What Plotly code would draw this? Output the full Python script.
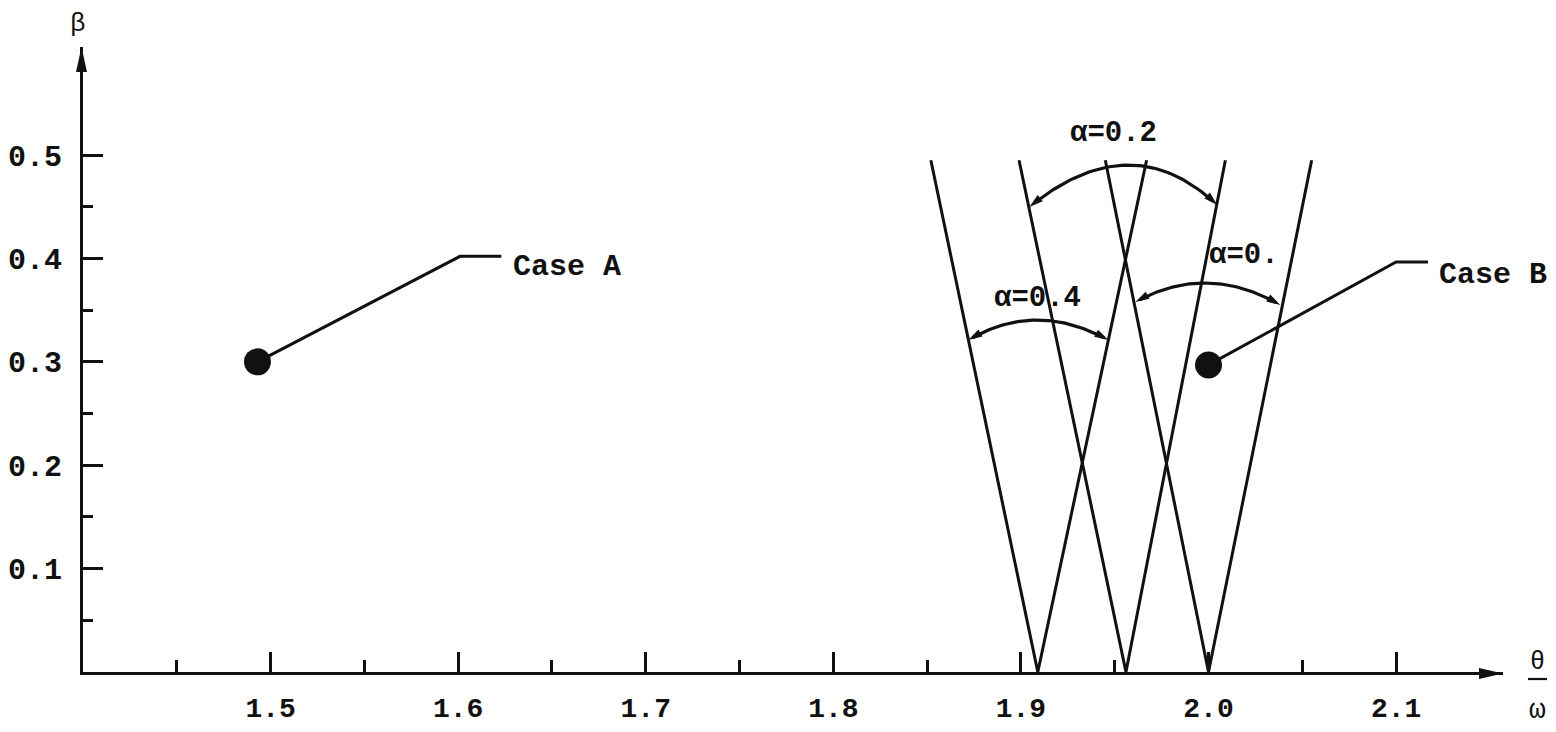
import math
import plotly.graph_objects as go

# ---------------- data ----------------
x_ticks = [1.5, 1.6, 1.7, 1.8, 1.9, 2.0, 2.1]
x_tick_labels = ["1.5", "1.6", "1.7", "1.8", "1.9", "2.0", "2.1"]
x_minor_ticks = [1.45, 1.55, 1.65, 1.75, 1.85, 1.95, 2.05]
y_ticks = [0.1, 0.2, 0.3, 0.4, 0.5]
y_tick_labels = ["0.1", "0.2", "0.3", "0.4", "0.5"]
y_minor_ticks = [0.05, 0.15, 0.25, 0.35, 0.45]

alpha_labels = ["α=0.4", "α=0.2", "α=0."]
v_vertex_x = [1.909, 1.956, 2.000]
v_left_top_x = [1.852, 1.899, 1.945]
v_right_top_x = [1.967, 2.009, 2.055]
v_top_beta = 0.495

case_labels = ["Case A", "Case B"]
case_x = [1.493, 2.000]
case_beta = [0.300, 0.297]
case_elbow_x = [1.601, 2.100]
case_elbow_beta = [0.402, 0.3965]
case_end_x = [1.623, 2.117]
case_text_x = [1.628, 2.122]
case_text_beta = [0.392, 0.384]

arc_start_x = [1.872, 1.9045, 1.961]
arc_start_beta = [0.321, 0.4497, 0.3578]
arc_peak_x = [1.9087, 1.9567, 1.9994]
arc_peak_beta = [0.3404, 0.4903, 0.3762]
arc_end_x = [1.9466, 2.0047, 2.0383]
arc_end_beta = [0.321, 0.4516, 0.3549]
alpha_label_x = [1.9088, 1.9493, 2.0187]
alpha_label_beta = [0.3617, 0.5213, 0.4033]

# ---------------- layout constants (page pixels) ----------------
OFF = 8                      # page body margin around the figure
W, H = 1556 - OFF, 732 - OFF
PLOT_L, PLOT_R, PLOT_T, PLOT_B = 83, 1503, 47, 672   # plot area in page pixels
ML, MR = PLOT_L - OFF, W - (PLOT_R - OFF)
MT, MB = PLOT_T - OFF, H - (PLOT_B - OFF)
X0, X1 = 1.4, 2.157
Y0, Y1 = 0.0, 0.6045
PW, PH = PLOT_R - PLOT_L, PLOT_B - PLOT_T
FONT = "Liberation Mono"
INK = "#111111"


def to_px(x, y):
    """data -> page pixels"""
    return PLOT_L + (x - X0) / (X1 - X0) * PW, PLOT_T + (Y1 - y) / (Y1 - Y0) * PH


def px_to_paper(px, py):
    """page pixels -> paper coords"""
    return (px - PLOT_L) / PW, (PLOT_B - py) / PH


def arrow_path(tip_px, d, length, width):
    tx, ty = tip_px
    n = math.hypot(*d)
    ux, uy = d[0] / n, d[1] / n
    bx, by = tx - ux * length, ty - uy * length
    nx, ny = -uy, ux
    pts = [(tx, ty), (bx + nx * width / 2, by + ny * width / 2),
           (bx - nx * width / 2, by - ny * width / 2)]
    pp = [px_to_paper(a, b) for a, b in pts]
    return "M{},{} L{},{} L{},{} Z".format(pp[0][0], pp[0][1], pp[1][0], pp[1][1], pp[2][0], pp[2][1])


def txt_font(size):
    return dict(family=FONT + ", monospace", size=size, color=INK, weight="bold")


fig = go.Figure()
shapes = []
annotations = []

# V-shaped boundary lines
for i in range(len(v_vertex_x)):
    fig.add_trace(go.Scatter(
        x=[v_left_top_x[i], v_vertex_x[i], v_right_top_x[i]],
        y=[v_top_beta, 0.0, v_top_beta],
        mode="lines", line=dict(color=INK, width=3), hoverinfo="skip", showlegend=False))

# arcs with arrows
for i in range(len(arc_start_x)):
    p0 = (arc_start_x[i], arc_start_beta[i])
    pm = (arc_peak_x[i], arc_peak_beta[i])
    p1 = (arc_end_x[i], arc_end_beta[i])
    c = (2 * pm[0] - (p0[0] + p1[0]) / 2, 2 * pm[1] - (p0[1] + p1[1]) / 2)
    xs, ys = [], []
    N = 60
    for k in range(N + 1):
        t = 0.03 + 0.94 * k / N
        xs.append((1 - t) ** 2 * p0[0] + 2 * (1 - t) * t * c[0] + t ** 2 * p1[0])
        ys.append((1 - t) ** 2 * p0[1] + 2 * (1 - t) * t * c[1] + t ** 2 * p1[1])
    fig.add_trace(go.Scatter(x=xs, y=ys, mode="lines", line=dict(color=INK, width=3.2),
                             hoverinfo="skip", showlegend=False))
    cpx = to_px(*c)
    for p in (p0, p1):
        tp = to_px(*p)
        shapes.append(dict(type="path", xref="paper", yref="paper",
                           path=arrow_path(tp, (tp[0] - cpx[0], tp[1] - cpx[1]), 14, 8),
                           fillcolor=INK, line=dict(width=0)))
    annotations.append(dict(x=alpha_label_x[i], y=alpha_label_beta[i], xref="x", yref="y",
                            text=alpha_labels[i], showarrow=False,
                            xanchor="center", yanchor="middle", font=txt_font(29)))

# cases: leader lines, dots, labels
for i in range(len(case_x)):
    fig.add_trace(go.Scatter(
        x=[case_x[i], case_elbow_x[i], case_end_x[i]],
        y=[case_beta[i], case_elbow_beta[i], case_elbow_beta[i]],
        mode="lines", line=dict(color=INK, width=3), hoverinfo="skip", showlegend=False))
    annotations.append(dict(x=case_text_x[i], y=case_text_beta[i], xref="x", yref="y",
                            text=case_labels[i], showarrow=False, xanchor="left",
                            yanchor="middle", font=txt_font(30)))
fig.add_trace(go.Scatter(x=case_x, y=case_beta, mode="markers",
                         marker=dict(size=27, color=INK, line=dict(width=0)),
                         hoverinfo="skip", showlegend=False, cliponaxis=False))

# axis arrowheads
shapes.append(dict(type="path", xref="paper", yref="paper",
                   path=arrow_path((PLOT_L - 1.5, PLOT_T), (0, -1), 25, 11),
                   fillcolor=INK, line=dict(width=0)))
shapes.append(dict(type="path", xref="paper", yref="paper",
                   path=arrow_path((PLOT_R, PLOT_B + 1.5), (1, 0), 24, 11),
                   fillcolor=INK, line=dict(width=0)))

# axis titles
for label, (px, py), size in (("β", (78, 24), 26), ("θ", (1537, 662), 25), ("ω", (1537, 710), 28)):
    ax_, ay_ = px_to_paper(px, py)
    annotations.append(dict(x=ax_, y=ay_, xref="paper", yref="paper", text=label,
                            showarrow=False, xanchor="center", yanchor="middle",
                            font=dict(family=FONT, size=size, color=INK)))
l0 = px_to_paper(1528, 679)
l1 = px_to_paper(1547, 679)
shapes.append(dict(type="line", xref="paper", yref="paper", x0=l0[0], y0=l0[1], x1=l1[0], y1=l1[1],
                   line=dict(color=INK, width=2.2)))

fig.update_layout(
    width=W, height=H,
    margin=dict(l=ML, r=MR, t=MT, b=MB, autoexpand=False),
    paper_bgcolor="white", plot_bgcolor="white",
    showlegend=False,
    shapes=shapes, annotations=annotations,
    xaxis=dict(range=[X0, X1], showgrid=False, zeroline=False, automargin=False,
               showline=True, linecolor=INK, linewidth=3,
               tickmode="array", tickvals=x_ticks, ticktext=x_tick_labels,
               ticks="inside", ticklen=20, tickwidth=2.5, tickcolor=INK,
               ticklabelstandoff=8,
               tickfont=txt_font(28),
               minor=dict(tickmode="array", tickvals=x_minor_ticks, ticks="inside",
                          ticklen=12, tickwidth=2.5, tickcolor=INK, showgrid=False)),
    yaxis=dict(range=[Y0, Y1], showgrid=False, zeroline=False, automargin=False,
               showline=True, linecolor=INK, linewidth=3,
               tickmode="array", tickvals=y_ticks, ticktext=y_tick_labels,
               ticks="inside", ticklen=20, tickwidth=2.5, tickcolor=INK,
               ticklabelstandoff=12,
               tickfont=txt_font(30),
               minor=dict(tickmode="array", tickvals=y_minor_ticks, ticks="inside",
                          ticklen=10, tickwidth=2.5, tickcolor=INK, showgrid=False)),
)

fig.write_html("out.html")
